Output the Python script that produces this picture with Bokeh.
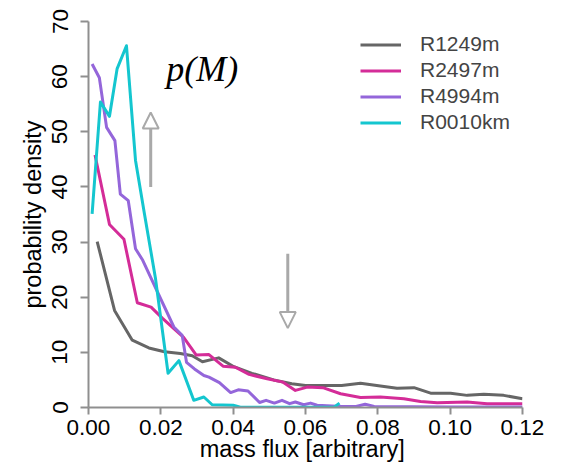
import math
from bokeh.plotting import figure
from bokeh.models import (Range1d, FixedTicker, PrintfTickFormatter, Legend, LegendItem,
                          Label, Arrow, NormalHead)
from bokeh.embed import file_html
from bokeh.resources import INLINE

# ---------------- data ----------------
series_names = ["R1249m", "R2497m", "R4994m", "R0010km"]
series_colors = ["#666666", "#D42C98", "#9466DA", "#14C6CF"]

r1249_x = [0.0024, 0.0072, 0.0121, 0.0167, 0.0210, 0.0254, 0.0287, 0.0315, 0.0360, 0.0402,
           0.0452, 0.0512, 0.0562, 0.0600, 0.0650, 0.0700, 0.0752, 0.0807, 0.0853, 0.0900,
           0.0946, 0.1001, 0.1047, 0.1093, 0.1148, 0.1200]
r1249_y = [30.1, 17.6, 12.2, 10.8, 10.1, 9.8, 9.4, 8.3, 9.0, 7.4,
           6.2, 5.0, 4.3, 4.0, 4.0, 4.0, 4.4, 3.9, 3.5, 3.6,
           2.6, 2.6, 2.2, 2.4, 2.2, 1.6]

r2497_x = [0.0018, 0.0058, 0.0098, 0.0135, 0.0173, 0.0204, 0.0236, 0.0263, 0.0298, 0.0333,
           0.0372, 0.0406, 0.0444, 0.0494, 0.0538, 0.0572, 0.0605, 0.0648, 0.0697, 0.0752,
           0.0807, 0.0872, 0.0918, 0.0964, 0.1047, 0.1102, 0.1200]
r2497_y = [45.8, 33.2, 30.5, 19.0, 18.2, 16.2, 14.3, 12.7, 9.5, 9.6,
           7.5, 7.3, 6.0, 5.2, 4.6, 3.1, 3.7, 3.6, 2.5, 1.8,
           1.9, 1.6, 1.1, 0.85, 1.0, 0.7, 0.7]

r4994_x = [0.0010, 0.0030, 0.0050, 0.0073, 0.0088, 0.0110, 0.0130, 0.0150, 0.0236, 0.0259,
           0.0271, 0.0293, 0.0319, 0.0333, 0.0362, 0.0393, 0.0414, 0.0441, 0.0473, 0.0491,
           0.0514, 0.0535, 0.0556, 0.0572, 0.0595, 0.0614, 0.0632, 0.0700, 0.0740, 0.0765,
           0.0790, 0.1000, 0.1200]
r4994_y = [62.3, 59.8, 50.8, 48.4, 38.7, 37.5, 28.8, 26.7, 14.6, 13.1,
           8.2, 7.0, 5.8, 5.5, 4.5, 2.7, 3.2, 3.0, 0.9, 1.3,
           0.8, 1.3, 0.7, 1.0, 0.5, 0.8, 0.4, 0.2, 0.2, 0.6,
           0.2, 0.1, 0.1]

r0010_x = [0.0010, 0.0033, 0.0058, 0.0079, 0.0105, 0.0130, 0.0155, 0.0185, 0.0220, 0.0250,
           0.0291, 0.0319, 0.0342, 0.0400, 0.0420, 0.0680, 0.0694]
r0010_y = [35.1, 55.4, 52.8, 61.4, 65.6, 44.8, 35.0, 23.5, 6.2, 8.5,
           1.3, 1.9, 0.5, 0.4, 0.05, 0.1, 0.8]

x_ticks = [0.00, 0.02, 0.04, 0.06, 0.08, 0.10, 0.12]
y_ticks = [0, 10, 20, 30, 40, 50, 60, 70]

arrow_x = [0.0172, 0.0551]
arrow_y_from = [40.0, 27.9]
arrow_y_to = [53.5, 14.4]

x_title = "mass flux  [arbitrary]"
y_title = "probability density"
annot_text = "p(M)"

# ---------------- figure ----------------
FONT = "Liberation Sans"
AXIS_GRAY = "#8f8f8f"
ARROW_GRAY = "#a9a9a9"

p = figure(width=564, height=471, output_backend="svg", toolbar_location=None, title=None,
           x_range=Range1d(0, 0.12), y_range=Range1d(0, 70),
           min_border_left=88, min_border_right=42, min_border_top=21, min_border_bottom=64)
p.outline_line_color = None
p.grid.visible = False
p.background_fill_color = "white"
p.border_fill_color = "white"

for ax in (p.xaxis[0], p.yaxis[0]):
    ax.axis_line_color = AXIS_GRAY
    ax.axis_line_width = 2
    ax.major_tick_line_color = AXIS_GRAY
    ax.major_tick_line_width = 2
    ax.major_tick_in = 0
    ax.minor_tick_line_color = None
    ax.major_label_text_font = FONT
    ax.major_label_text_font_size = "22.5px"
    ax.major_label_text_color = "black"
    ax.axis_label_text_font = FONT
    ax.axis_label_text_font_size = "23.5px"
    ax.axis_label_text_font_style = "normal"
    ax.axis_label_text_color = "black"

p.xaxis.ticker = FixedTicker(ticks=x_ticks)
p.xaxis.formatter = PrintfTickFormatter(format="%.2f")
p.xaxis.major_tick_out = 7
p.xaxis.major_label_standoff = 5
p.xaxis.axis_label = x_title
p.xaxis.axis_label_standoff = -2

p.yaxis.ticker = FixedTicker(ticks=y_ticks)
p.yaxis.major_label_orientation = "vertical"
p.yaxis.major_tick_out = 8
p.yaxis.major_label_standoff = 13
p.yaxis.axis_label = y_title
p.yaxis.axis_label_standoff = 4

xs = [r1249_x, r2497_x, r4994_x, r0010_x]
ys = [r1249_y, r2497_y, r4994_y, r0010_y]
items = []
for name, col, x, y in zip(series_names, series_colors, xs, ys):
    r = p.line(x, y, line_color=col, line_width=3, line_join="round")
    items.append(LegendItem(label=name, renderers=[r]))

legend = Legend(items=items, location=(272, 273), border_line_color=None,
                background_fill_alpha=0, padding=0, margin=0, spacing=2,
                glyph_width=41, glyph_height=21, label_height=21, label_standoff=19,
                label_text_font=FONT, label_text_font_size="21px")
p.add_layout(legend)

for ax_, y0, y1 in zip(arrow_x, arrow_y_from, arrow_y_to):
    p.add_layout(Arrow(end=NormalHead(size=16, fill_color="white", line_color=ARROW_GRAY,
                                      line_width=2),
                       x_start=ax_, y_start=y0, x_end=ax_, y_end=y1,
                       line_color=ARROW_GRAY, line_width=3))

p.add_layout(Label(x=0.0215, y=61.3, text=annot_text, text_font="Liberation Serif",
                   text_font_style="italic", text_font_size="36px",
                   text_baseline="alphabetic", text_color="black"))

open("out.html", "w").write(file_html(p, INLINE))
